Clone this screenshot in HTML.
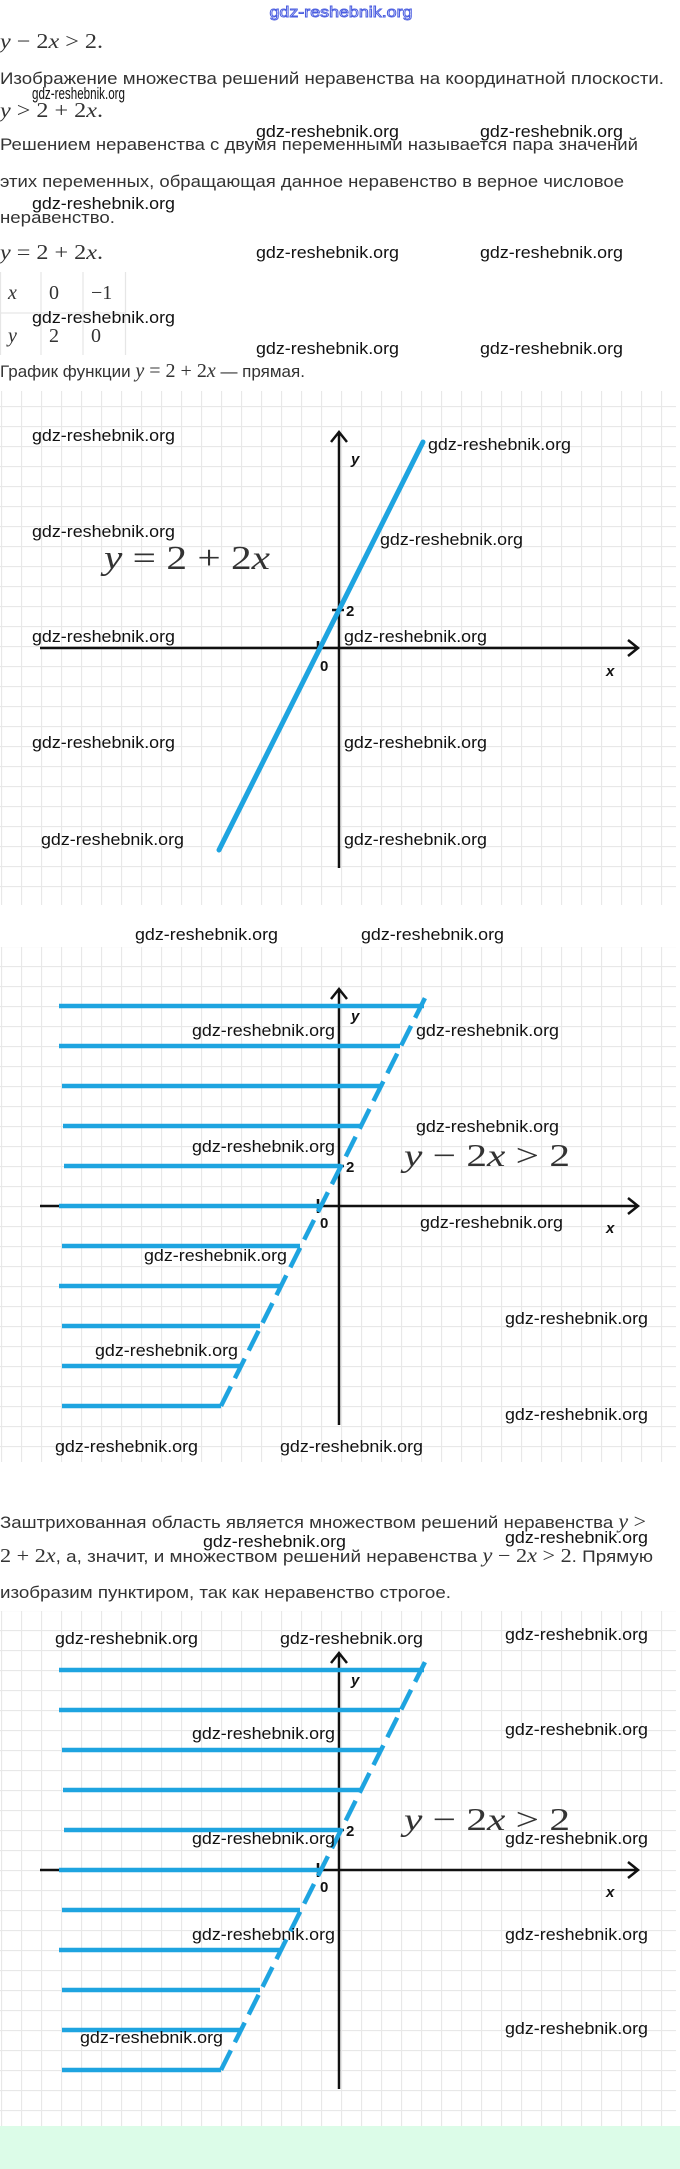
<!DOCTYPE html>
<html><head><meta charset="utf-8"><style>
html,body{margin:0;padding:0;background:#fff;}
svg{display:block}
.t{font-family:"Liberation Sans",sans-serif;font-size:17px;fill:#333;}
.m{font-family:"Liberation Serif",serif;fill:#333;}
.i{font-style:italic}
.w{font-family:"Liberation Sans",sans-serif;font-size:17px;fill:#111;}
.ax{font-family:"Liberation Sans",sans-serif;font-weight:bold;font-size:15px;fill:#111;}
</style></head><body>
<svg width="680" height="2169" viewBox="0 0 680 2169" xmlns="http://www.w3.org/2000/svg">
<defs>
<pattern id="g" width="20" height="20" patternUnits="userSpaceOnUse" x="1" y="6">
<rect width="20" height="20" fill="#fff"/>
<path d="M0.5 0V20M0 0.5H20" stroke="#e8e8e8" stroke-width="1.2"/>
</pattern>
</defs>
<rect width="680" height="2169" fill="#fff"/>

<!-- top text -->
<text x="341" y="17" text-anchor="middle" style="font-family:'Liberation Sans',sans-serif;font-size:15px;fill:#fff;stroke:#4a5de0;stroke-width:0.9" textLength="143" lengthAdjust="spacingAndGlyphs">gdz-reshebnik.org</text>
<text class="m" x="0" y="48" font-size="21" textLength="103" lengthAdjust="spacingAndGlyphs"><tspan class="i">y</tspan> − 2<tspan class="i">x</tspan> &gt; 2.</text>
<text class="t" x="0" y="84" textLength="664" lengthAdjust="spacingAndGlyphs">Изображение множества решений неравенства на координатной плоскости.</text>
<text class="w" x="32" y="99" font-size="12" textLength="93" lengthAdjust="spacingAndGlyphs">gdz-reshebnik.org</text>
<text class="m" x="0" y="117" font-size="21" textLength="103" lengthAdjust="spacingAndGlyphs"><tspan class="i">y</tspan> &gt; 2 + 2<tspan class="i">x</tspan>.</text>
<text class="w" x="256" y="137" textLength="143" lengthAdjust="spacingAndGlyphs">gdz-reshebnik.org</text>
<text class="w" x="480" y="137" textLength="143" lengthAdjust="spacingAndGlyphs">gdz-reshebnik.org</text>
<text class="t" x="0" y="150" textLength="638" lengthAdjust="spacingAndGlyphs">Решением неравенства с двумя переменными называется пара значений</text>
<text class="t" x="0" y="187" textLength="624" lengthAdjust="spacingAndGlyphs">этих переменных, обращающая данное неравенство в верное числовое</text>
<text class="w" x="32" y="209" textLength="143" lengthAdjust="spacingAndGlyphs">gdz-reshebnik.org</text>
<text class="t" x="0" y="223" textLength="115" lengthAdjust="spacingAndGlyphs">неравенство.</text>
<text class="m" x="0" y="259" font-size="21" textLength="103" lengthAdjust="spacingAndGlyphs"><tspan class="i">y</tspan> = 2 + 2<tspan class="i">x</tspan>.</text>
<text class="w" x="256" y="258" textLength="143" lengthAdjust="spacingAndGlyphs">gdz-reshebnik.org</text>
<text class="w" x="480" y="258" textLength="143" lengthAdjust="spacingAndGlyphs">gdz-reshebnik.org</text>
<!-- table -->
<g stroke="#e6e6e6" stroke-width="1.2" fill="none">
<path d="M0.5 272V355M41 272V355M83 272V355M125.5 272V355M0 313H126"/>
</g>
<text class="m i" x="8" y="299" font-size="20">x</text>
<text class="m" x="49" y="299" font-size="20">0</text>
<text class="m" x="91" y="299" font-size="20">−1</text>
<text class="m i" x="8" y="342" font-size="20">y</text>
<text class="m" x="49" y="342" font-size="20">2</text>
<text class="m" x="91" y="342" font-size="20">0</text>
<text class="w" x="32" y="323" textLength="143" lengthAdjust="spacingAndGlyphs">gdz-reshebnik.org</text>
<text class="w" x="256" y="354" textLength="143" lengthAdjust="spacingAndGlyphs">gdz-reshebnik.org</text>
<text class="w" x="480" y="354" textLength="143" lengthAdjust="spacingAndGlyphs">gdz-reshebnik.org</text>
<text class="t" x="0" y="377"><tspan>График функции </tspan><tspan class="m i" font-size="20">y</tspan><tspan class="m" font-size="20"> = 2 + 2</tspan><tspan class="m i" font-size="20">x</tspan><tspan> — прямая.</tspan></text>

<!-- Graph 1 -->
<rect x="0" y="391" width="676" height="514" fill="url(#g)"/>
<g stroke="#111" stroke-width="2.5" fill="none">
<path d="M339 868V432M331 442L339 432L347 442"/>
<path d="M40 648H638M628 640L638 648L628 656"/>
<path d="M332 610H344M318 641V655"/>
</g>
<line x1="219" y1="850" x2="423" y2="442" stroke="#1ea4e0" stroke-width="5" stroke-linecap="round"/>
<text class="ax" x="346" y="616">2</text>
<text class="ax" x="320" y="671">0</text>
<text class="ax" x="351" y="464" font-style="italic">y</text>
<text class="ax" x="606" y="676" font-style="italic">x</text>
<text class="m" x="104" y="569" font-size="34" textLength="166" lengthAdjust="spacingAndGlyphs"><tspan class="i">y</tspan> = 2 + 2<tspan class="i">x</tspan></text>
<text class="w" x="32" y="441" textLength="143" lengthAdjust="spacingAndGlyphs">gdz-reshebnik.org</text>
<text class="w" x="428" y="450" textLength="143" lengthAdjust="spacingAndGlyphs">gdz-reshebnik.org</text>
<text class="w" x="32" y="537" textLength="143" lengthAdjust="spacingAndGlyphs">gdz-reshebnik.org</text>
<text class="w" x="380" y="545" textLength="143" lengthAdjust="spacingAndGlyphs">gdz-reshebnik.org</text>
<text class="w" x="32" y="642" textLength="143" lengthAdjust="spacingAndGlyphs">gdz-reshebnik.org</text>
<text class="w" x="344" y="642" textLength="143" lengthAdjust="spacingAndGlyphs">gdz-reshebnik.org</text>
<text class="w" x="32" y="748" textLength="143" lengthAdjust="spacingAndGlyphs">gdz-reshebnik.org</text>
<text class="w" x="344" y="748" textLength="143" lengthAdjust="spacingAndGlyphs">gdz-reshebnik.org</text>
<text class="w" x="41" y="845" textLength="143" lengthAdjust="spacingAndGlyphs">gdz-reshebnik.org</text>
<text class="w" x="344" y="845" textLength="143" lengthAdjust="spacingAndGlyphs">gdz-reshebnik.org</text>
<text class="w" x="135" y="940" textLength="143" lengthAdjust="spacingAndGlyphs">gdz-reshebnik.org</text>
<text class="w" x="361" y="940" textLength="143" lengthAdjust="spacingAndGlyphs">gdz-reshebnik.org</text>

<!-- Graph 2 -->
<g id="g2">
<rect x="0" y="947" width="676" height="515" fill="url(#g)"/>
<g stroke="#111" stroke-width="2.5" fill="none">
<path d="M339 1425V989M331 999L339 989L347 999"/>
<path d="M40 1206H638M628 1198L638 1206L628 1214"/>
<path d="M332 1166H344M318 1199V1213"/>
</g>
<g stroke="#1ea4e0" stroke-width="4.5" stroke-linecap="butt" fill="none">
<path d="M59 1006H424M59 1046H400M62 1086H380M63 1126H360M64 1166H340M59 1206H320M62 1246H300M59 1286H280M62 1326H260M62 1366H240M62 1406H221"/>
<path d="M221 1406L426 996" stroke-dasharray="22 9"/>
</g>
<text class="ax" x="346" y="1172">2</text>
<text class="ax" x="320" y="1228">0</text>
<text class="ax" x="351" y="1021" font-style="italic">y</text>
<text class="ax" x="606" y="1233" font-style="italic">x</text>
<text class="m" x="404" y="1166" font-size="32" textLength="166" lengthAdjust="spacingAndGlyphs"><tspan class="i">y</tspan> − 2<tspan class="i">x</tspan> &gt; 2</text>
</g>
<text class="w" x="192" y="1036" textLength="143" lengthAdjust="spacingAndGlyphs">gdz-reshebnik.org</text>
<text class="w" x="416" y="1036" textLength="143" lengthAdjust="spacingAndGlyphs">gdz-reshebnik.org</text>
<text class="w" x="416" y="1132" textLength="143" lengthAdjust="spacingAndGlyphs">gdz-reshebnik.org</text>
<text class="w" x="192" y="1152" textLength="143" lengthAdjust="spacingAndGlyphs">gdz-reshebnik.org</text>
<text class="w" x="420" y="1228" textLength="143" lengthAdjust="spacingAndGlyphs">gdz-reshebnik.org</text>
<text class="w" x="144" y="1261" textLength="143" lengthAdjust="spacingAndGlyphs">gdz-reshebnik.org</text>
<text class="w" x="505" y="1324" textLength="143" lengthAdjust="spacingAndGlyphs">gdz-reshebnik.org</text>
<text class="w" x="95" y="1356" textLength="143" lengthAdjust="spacingAndGlyphs">gdz-reshebnik.org</text>
<text class="w" x="505" y="1420" textLength="143" lengthAdjust="spacingAndGlyphs">gdz-reshebnik.org</text>
<text class="w" x="55" y="1452" textLength="143" lengthAdjust="spacingAndGlyphs">gdz-reshebnik.org</text>
<text class="w" x="280" y="1452" textLength="143" lengthAdjust="spacingAndGlyphs">gdz-reshebnik.org</text>

<!-- middle text -->
<text class="t" x="0" y="1528" textLength="646" lengthAdjust="spacingAndGlyphs">Заштрихованная область является множеством решений неравенства <tspan class="m i" font-size="20">y</tspan><tspan class="m" font-size="20"> &gt;</tspan></text>
<text class="w" x="203" y="1547" textLength="143" lengthAdjust="spacingAndGlyphs">gdz-reshebnik.org</text>
<text class="w" x="505" y="1543" textLength="143" lengthAdjust="spacingAndGlyphs">gdz-reshebnik.org</text>
<text class="t" x="0" y="1562" textLength="653" lengthAdjust="spacingAndGlyphs"><tspan class="m" font-size="20">2 + 2</tspan><tspan class="m i" font-size="20">x</tspan>, а, значит, и множеством решений неравенства <tspan class="m i" font-size="20">y</tspan><tspan class="m" font-size="20"> − 2</tspan><tspan class="m i" font-size="20">x</tspan><tspan class="m" font-size="20"> &gt; 2</tspan>. Прямую</text>
<text class="t" x="0" y="1598" textLength="451" lengthAdjust="spacingAndGlyphs">изобразим пунктиром, так как неравенство строгое.</text>

<!-- Graph 3 -->
<use href="#g2" transform="translate(0,664)"/>
<text class="w" x="55" y="1644" textLength="143" lengthAdjust="spacingAndGlyphs">gdz-reshebnik.org</text>
<text class="w" x="280" y="1644" textLength="143" lengthAdjust="spacingAndGlyphs">gdz-reshebnik.org</text>
<text class="w" x="505" y="1640" textLength="143" lengthAdjust="spacingAndGlyphs">gdz-reshebnik.org</text>
<text class="w" x="192" y="1739" textLength="143" lengthAdjust="spacingAndGlyphs">gdz-reshebnik.org</text>
<text class="w" x="505" y="1735" textLength="143" lengthAdjust="spacingAndGlyphs">gdz-reshebnik.org</text>
<text class="w" x="192" y="1844" textLength="143" lengthAdjust="spacingAndGlyphs">gdz-reshebnik.org</text>
<text class="w" x="505" y="1844" textLength="143" lengthAdjust="spacingAndGlyphs">gdz-reshebnik.org</text>
<text class="w" x="192" y="1940" textLength="143" lengthAdjust="spacingAndGlyphs">gdz-reshebnik.org</text>
<text class="w" x="505" y="1940" textLength="143" lengthAdjust="spacingAndGlyphs">gdz-reshebnik.org</text>
<text class="w" x="80" y="2043" textLength="143" lengthAdjust="spacingAndGlyphs">gdz-reshebnik.org</text>
<text class="w" x="505" y="2034" textLength="143" lengthAdjust="spacingAndGlyphs">gdz-reshebnik.org</text>

<rect x="0" y="2126" width="680" height="43" fill="#dcfce8"/>
</svg>
</body></html>
